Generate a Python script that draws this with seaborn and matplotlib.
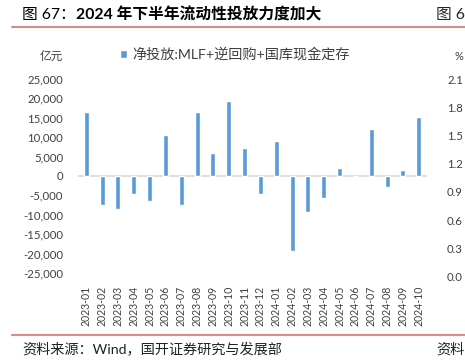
import pandas as pd
import matplotlib
matplotlib.use("Agg")
import matplotlib.pyplot as plt
import seaborn as sns
from matplotlib.ticker import FuncFormatter

# chart data (亿元)
months = ["2023-01", "2023-02", "2023-03", "2023-04", "2023-05", "2023-06",
          "2023-07", "2023-08", "2023-09", "2023-10", "2023-11", "2023-12",
          "2024-01", "2024-02", "2024-03", "2024-04", "2024-05", "2024-06",
          "2024-07", "2024-08", "2024-09", "2024-10"]
net_injection = [16500, -7550, -8500, -4700, -6400, 10500,
                 -7550, 16600, 5900, 19350, 7200, -4700,
                 8950, -19300, -9300, -5650, 2150, 50,
                 12000, -2950, 1500, 15300]
series_label = "净投放:MLF+逆回购+国库现金定存"

# neighbouring chart's axis, cut off at the right edge
right_ticks = ["2.1", "1.8", "1.5", "1.2", "0.9", "0.6", "0.3", "0.0"]

df = pd.DataFrame({"month": months, "value": net_injection})

sns.set_style("white")
plt.rcParams["font.family"] = ["Lato", "Noto Sans CJK SC"]
plt.rcParams["axes.unicode_minus"] = False

W, H = 465, 362
fig = plt.figure(figsize=(W / 100, H / 100), dpi=100)
ax = fig.add_axes([78.3 / W, (H - 273) / H, 348.4 / W, (273 - 79) / H])

ax.axhline(0, color="#d9d9d9", lw=1.2, zorder=0)
sns.barplot(data=df, x="month", y="value", color="#5b9bd5", saturation=1,
            width=0.32, ax=ax, label=series_label, zorder=2)

ax.set_xlim(-0.5, len(months) - 0.5)
ax.set_ylim(-25000, 25000)
ax.set_yticks(range(-25000, 25001, 5000))
ax.yaxis.set_major_formatter(FuncFormatter(lambda v, p: f"{int(v):,}"))
ax.set_xlabel("")
ax.set_ylabel("")
ax.tick_params(axis="y", length=0, pad=11, labelsize=8.2, labelcolor="#404040")
ax.tick_params(axis="x", length=0, pad=9, labelsize=7.6, labelcolor="#404040",
               labelrotation=90)
sns.despine(ax=ax, left=True, bottom=True)

ax.legend(loc="center left", bbox_to_anchor=(120 / W, 1 - 54 / H),
          bbox_transform=fig.transFigure, frameon=False, fontsize=10.2,
          handlelength=0.5, handleheight=0.5, handletextpad=0.4,
          borderpad=0, borderaxespad=0, labelcolor="#404040")

fig.text(63 / W, 1 - 56 / H, "亿元", ha="right", va="center", fontsize=8.4,
         color="#404040")

# title and source
fig.text(22 / W, 1 - 15 / H, "图 67：", ha="left", va="center", fontsize=11.3,
         color="black")
fig.text(76 / W, 1 - 15 / H, "2024 年下半年流动性投放力度加大", ha="left",
         va="center", fontsize=11.3, fontweight="bold", color="black")
fig.text(1.0, 1 - 15 / H, "图 6", ha="right", va="center", fontsize=11.3)
fig.add_artist(plt.Line2D([12 / W, 1], [1 - 27 / H] * 2, color="#d98a8a", lw=1.5))
fig.add_artist(plt.Line2D([12 / W, 1], [1 - 335 / H] * 2, color="#d98a8a", lw=1.5))
fig.text(22 / W, 1 - 349 / H, "资料来源：Wind，国开证券研究与发展部", ha="left",
         va="center", fontsize=10.2, color="#222222")
fig.text(1.0, 1 - 349 / H, "资料", ha="right", va="center", fontsize=10.2,
         color="#222222")

fig.text(454 / W, 1 - 57 / H, "%", ha="left", va="center", fontsize=8,
         color="#404040")
for i, lab in enumerate(right_ticks):
    fig.text(447 / W, 1 - (80 + i * 28.25) / H, lab, ha="left", va="center",
             fontsize=8.2, color="#404040")

fig.savefig("out.png", dpi=100)
